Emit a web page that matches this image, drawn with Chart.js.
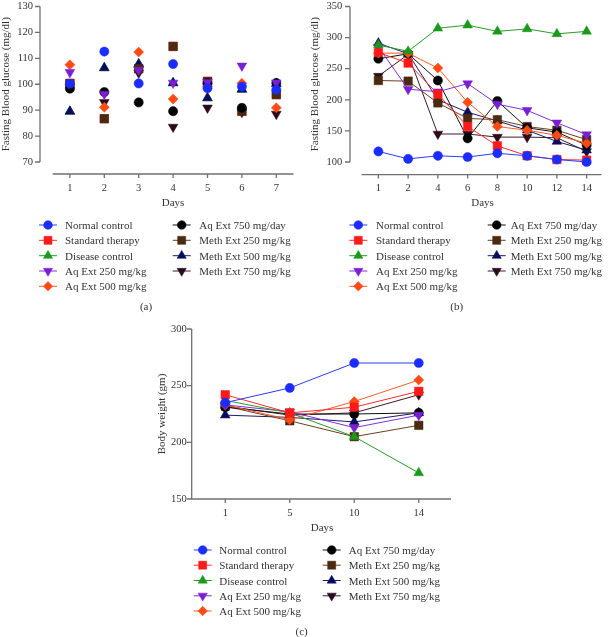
<!DOCTYPE html>
<html><head><meta charset="utf-8">
<script src="https://cdn.jsdelivr.net/npm/chart.js@4/dist/chart.umd.min.js"></script>
<style>
html,body{margin:0;padding:0;background:#fff}
body{width:608px;height:637px;position:relative;overflow:hidden;font-family:"Liberation Serif","DejaVu Serif",serif;color:#333}
canvas{position:absolute}
.lt{position:absolute;font-size:11px;line-height:14px;white-space:nowrap;color:#333}
.cap{position:absolute;font-size:11px;line-height:14px;color:#333;transform:translateX(-50%)}
</style>
</head><body>
<canvas id="ov" width="608" height="637" style="left:0;top:0"></canvas>
<canvas id="ca" width="300" height="210" style="left:0;top:0"></canvas>
<canvas id="cb" width="308" height="210" style="left:300px;top:0"></canvas>
<canvas id="cc" width="310" height="215" style="left:150px;top:320px"></canvas>
<script>
// ---------- data ----------
const seriesNames = ['Normal control','Standard therapy','Disease control','Aq Ext 250 mg/kg','Aq Ext 500 mg/kg','Aq Ext 750 mg/day','Meth Ext 250 mg/kg','Meth Ext 500 mg/kg','Meth Ext 750 mg/kg'];

const daysA = ['1','2','3','4','5','6','7'];
const aNormal   = [100.2, 112.6, 100.3, 107.8, 98.5, 99.1, 97.9];
const aStandard = [100.3, 86.7, 106.0, 114.6, 101.1, 89.6, 96.0];
const aDisease  = [89.5, 106.3, 107.8, 100.5, 94.7, 98.0, 100.2];
const aAq250    = [104.6, 96.2, 105.5, 100.5, 100.8, 107.1, 100.6];
const aAq500    = [107.5, 91.1, 112.4, 94.3, 99.0, 100.4, 90.9];
const aAq750    = [98.3, 97.0, 93.0, 89.6, 100.4, 90.9, 100.5];
const aMeth250  = [100.3, 86.7, 106.0, 114.6, 101.1, 89.6, 96.0];
const aMeth500  = [89.5, 106.3, 107.8, 100.5, 94.7, 98.0, 100.2];
const aMeth750  = [99.0, 93.0, 104.4, 83.5, 90.9, 89.2, 88.5];

const daysB = ['1','2','4','6','8','10','12','14'];
const bNormal   = [117, 105, 110, 108, 114, 110, 104, 100];
const bStandard = [276, 259, 209, 157, 126, 110, 104, 103];
const bDisease  = [288, 278, 315, 320, 310, 314, 306, 310];
const bAq250    = [285, 217, 213, 226, 193, 183, 163, 144];
const bAq500    = [275, 275, 251, 196, 157, 151, 143, 130];
const bAq750    = [266, 274, 231, 138, 198, 155, 148, 127];
const bMeth250  = [231, 230, 195, 170, 168, 157, 151, 136];
const bMeth500  = [291, 274, 200, 180, 166, 151, 133, 119];
const bMeth750  = [238, 273, 145, 145, 140, 140, 139, 117];

const daysC = ['1','5','10','14'];
const cNormal   = [235, 248, 270, 270];
const cStandard = [242, 226, 231, 245];
const cDisease  = [237, 226, 205, 173];
const cAq250    = [233, 227, 213, 224];
const cAq500    = [233, 220, 236, 255];
const cAq750    = [231, 225, 225, 226];
const cMeth250  = [232, 219, 205, 215];
const cMeth500  = [224, 222, 218, 226];
const cMeth750  = [232, 224, 226, 242];

const yTicksA = {min:70, max:130, step:10};
const yTicksB = {min:100, max:350, step:50};
const yTicksC = {min:150, max:300, step:50};

// ---------- styles ----------
const pointColors = ['#1a2cff','#ff1a1a','#1a9a1a','#7b1fd6','#ff4a14','#000000','#4a2a10','#0b0b5e','#2b0a1e'];
const lineColors  = ['#2a3cff','#ff2a2a','#2a9a2a','#8030d8','#ff5a24','#111111','#6b3f1f','#1b1b6e','#3b1a2e'];
const pStyles = ['circle','rect','triangle','triangle','rectRot','circle','rect','triangle','triangle'];
const pRot    = [0,0,0,180,0,0,0,0,180];
const pRad    = [4.6,6,5.6,5.6,5,4.6,6,5.6,5.6];
const FONT = '"Liberation Serif","DejaVu Serif",serif';
const TXT = '#333';

const detachedAxes = {
  id:'detachedAxes',
  beforeDatasetsDraw(chart, args, opts){
    const {ctx, chartArea, scales:{x,y}} = chart;
    ctx.save();
    ctx.strokeStyle = '#707070'; ctx.lineWidth = 1.3;
    const yl = chartArea.left - opts.gapY;
    ctx.beginPath();
    ctx.moveTo(yl, y.getPixelForValue(y.max)); ctx.lineTo(yl, y.getPixelForValue(y.min));
    y.ticks.forEach((t,i)=>{const p=y.getPixelForTick(i); ctx.moveTo(yl-5,p); ctx.lineTo(yl,p);});
    const xl = chartArea.bottom + opts.gapX;
    ctx.moveTo(chartArea.left - opts.xExt, xl); ctx.lineTo(chartArea.right, xl);
    x.ticks.forEach((t,i)=>{const p=x.getPixelForTick(i); ctx.moveTo(p,xl); ctx.lineTo(p,xl+4);});
    ctx.stroke();
    ctx.restore();
  }
};

function zeroPad(s){ s.paddingLeft = 0; s.paddingRight = 0; s.paddingTop = 0; s.paddingBottom = 0; }

function makeChart(id, labels, series, yr, c){
  const datasets = series.map((d,i)=>({
    label: seriesNames[i], data: d, showLine: c.showLine,
    borderColor: lineColors[i], backgroundColor: pointColors[i], borderWidth: 1,
    pointBackgroundColor: pointColors[i], pointBorderColor: pointColors[i], pointBorderWidth: 0.5,
    pointStyle: pStyles[i], pointRotation: pRot[i], pointRadius: pRad[i],
    order: (c.hidden && c.hidden.includes(i)) ? 5 : 0, clip: false, tension: 0
  }));
  return new Chart(document.getElementById(id), {
    type:'line',
    data:{labels, datasets},
    options:{
      responsive:false, animation:false, devicePixelRatio:1,
      layout:{padding:{left:0, right:c.padR, top:c.padT, bottom:0}},
      plugins:{legend:{display:false}, tooltip:{enabled:false}, detachedAxes:{gapX:c.gapX, gapY:c.gapY, xExt:c.xExt||0}},
      scales:{
        x:{type:'category', offset:true, grid:{display:false, drawTicks:false}, border:{display:false},
           ticks:{font:{family:FONT,size:10.5}, color:TXT, padding:c.xPad, maxRotation:0, autoSkip:false},
           title:{display:true, text:'Days', font:{family:FONT,size:11}, color:TXT, padding:{top:0,bottom:0}},
           afterFit(s){ s.height = c.xH; zeroPad(s); }},
        y:{min:yr.min, max:yr.max, grid:{display:false, drawTicks:false}, border:{display:false},
           ticks:{stepSize:yr.step, font:{family:FONT,size:10.5}, color:TXT, padding:c.yPad},
           title:{display:true, text:c.yTitle, font:{family:FONT,size:11}, color:TXT, padding:{top:c.yTitlePad,bottom:0}},
           afterFit(s){ s.width = c.yW; zeroPad(s); }}
      }
    },
    plugins:[detachedAxes]
  });
}

makeChart('ca', daysA, [aNormal,aStandard,aDisease,aAq250,aAq500,aAq750,aMeth250,aMeth500,aMeth750], yTicksA,
  {showLine:false, hidden:[1,2], padR:5, padT:3.5, xH:48, yW:52.7, xPad:19.5, yPad:19.7, yTitlePad:0, gapX:12, gapY:12.7,
   yTitle:'Fasting Blood glucose (mg/dl)'});
makeChart('cb', daysB, [bNormal,bStandard,bDisease,bAq250,bAq500,bAq750,bMeth250,bMeth500,bMeth750], yTicksB,
  {showLine:true, padR:1.5, padT:4, xH:48, yW:63.5, xPad:19.5, yPad:21.2, yTitlePad:8.4, gapX:12.6, gapY:13.5, xExt:1.8,
   yTitle:'Fasting Blood glucose (mg/dl)'});
makeChart('cc', daysC, [cNormal,cStandard,cDisease,cAq250,cAq500,cAq750,cMeth250,cMeth500,cMeth750], yTicksC,
  {showLine:true, padR:9, padT:9, xH:36, yW:43, xPad:8, yPad:6.3, yTitlePad:5.1, gapX:0, gapY:1.3, xExt:1.3,
   yTitle:'Body weight (gm)'});

// ---------- legends ----------
const ov = document.getElementById('ov').getContext('2d');
function marker(i, x, y){
  ov.save();
  ov.strokeStyle = lineColors[i]; ov.lineWidth = 1;
  ov.beginPath(); ov.moveTo(x-9,y); ov.lineTo(x+9,y); ov.stroke();
  ov.fillStyle = pointColors[i]; ov.strokeStyle = pointColors[i]; ov.lineWidth = 0.5;
  if (Chart.helpers && Chart.helpers.drawPoint) {
    Chart.helpers.drawPoint(ov, {pointStyle:pStyles[i], rotation:pRot[i], radius:pRad[i]*0.95, borderWidth:0.5}, x, y);
  } else {
    ov.beginPath(); ov.arc(x,y,4.5,0,Math.PI*2); ov.fill();
  }
  ov.restore();
}
function legend(c1m, c1t, c2m, c2t, rows, capX, capY, capText){
  seriesNames.forEach((n,i)=>{
    const col2 = i >= 5; const r = col2 ? i-5 : i;
    const mx = col2 ? c2m : c1m, tx = col2 ? c2t : c1t, y = rows[r];
    marker(i, mx, y);
    const s = document.createElement('div'); s.className='lt'; s.textContent=n;
    s.style.left = tx+'px'; s.style.top = (y-7)+'px';
    document.body.appendChild(s);
  });
  const cp = document.createElement('div'); cp.className='cap'; cp.textContent=capText;
  cp.style.left = capX+'px'; cp.style.top = (capY-7)+'px';
  document.body.appendChild(cp);
}
legend(48, 65, 181.7, 199.3, [225,240.3,255.7,271,286.3], 146, 305.7, '(a)');
legend(358.3, 376, 496.7, 510.7, [225,240.3,255.7,271,286.3], 456.7, 305.7, '(b)');
legend(202.7, 219.3, 331.7, 348.7, [550,565.2,580.5,595.8,611], 301.7, 631, '(c)');
</script>
</body></html>
